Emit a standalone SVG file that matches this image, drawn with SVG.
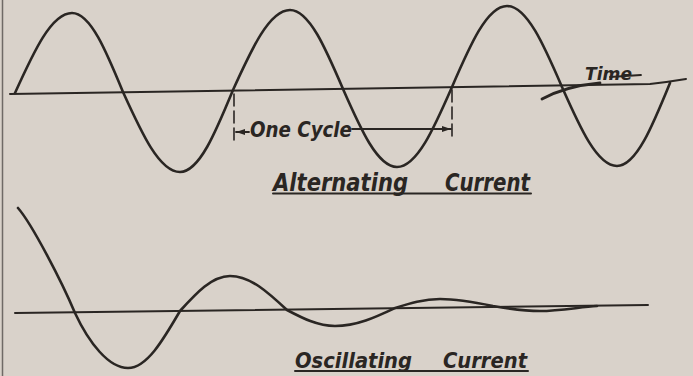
<svg xmlns="http://www.w3.org/2000/svg" width="693" height="376" viewBox="0 0 693 376">
<defs>
<style>
.ink{fill:none;stroke:#2a2623;stroke-linecap:round;stroke-linejoin:round}
.wave{stroke-width:2.6}
.axis{stroke-width:2}
.lbl{font-family:"DejaVu Sans","Liberation Sans",sans-serif;font-style:italic;font-weight:bold;fill:#2a2623}
</style>
<marker id="ah" markerWidth="10" markerHeight="8" refX="9" refY="4" orient="auto" markerUnits="userSpaceOnUse">
<path d="M0,1 L9,4 L0,7 Z" fill="#2a2623"/>
</marker>
</defs>
<rect width="693" height="376" fill="#d9d2ca"/>
<line x1="2.5" y1="0" x2="2.5" y2="376" stroke="#6f6a66" stroke-width="1.5"/>

<g id="alternating">
<path class="ink axis" d="M10,94 L650,84 Q668,82 686,79"/>
<path class="ink wave" d="M15,93 C33.6,52 51.4,13 72,13 C90.5,13 106.4,51.6 123,92 C141.6,133 159.4,172 180,172 C199.2,172 215.7,132 233,90 C251.6,49 269.4,10 290,10 C309.2,10 325.7,48.6 343,89 C360.6,129 377.5,167 397,167 C416.9,167 434.1,128 452,87 C469.9,45.5 487.1,6 507,6 C526.9,6 544.1,45.5 562,87 C579.9,127.4 597.1,166 617,166 C636.2,166 652.7,125.5 670,83"/>
<path class="ink" stroke-width="2.8" d="M542,99 Q566,86 600,83"/>
<text class="lbl" x="585" y="80" font-size="17" textLength="47" lengthAdjust="spacingAndGlyphs">Time</text>
<line class="ink" stroke-width="1.8" x1="610" y1="77" x2="641" y2="75"/>
<text class="lbl" x="273" y="191" font-size="25" textLength="135" lengthAdjust="spacingAndGlyphs">Alternating</text>
<text class="lbl" x="445" y="191" font-size="25" textLength="85" lengthAdjust="spacingAndGlyphs">Current</text>
<line class="ink" stroke-width="2" x1="273" y1="193.5" x2="531" y2="193.5"/>
</g>

<g id="cycle">
<line class="ink" stroke-width="1.6" stroke-dasharray="12 5" x1="234" y1="94" x2="234" y2="145"/>
<line class="ink" stroke-width="1.6" stroke-dasharray="12 5" x1="452" y1="90" x2="452" y2="138"/>
<line class="ink" stroke-width="1.8" x1="249" y1="132" x2="236" y2="132" marker-end="url(#ah)"/>
<line class="ink" stroke-width="1.8" x1="352" y1="129" x2="451" y2="129" marker-end="url(#ah)"/>
<text class="lbl" x="250" y="137" font-size="22" textLength="102" lengthAdjust="spacingAndGlyphs">One Cycle</text>
</g>

<g id="oscillating">
<path class="ink axis" d="M15,313 L648,305"/>
<path class="ink wave" d="M18,208 C32,224 62,282 75,313 C89,343 108.8,368 128,368 C146.8,368 163,340.2 180,311 C196.3,293.1 211.9,276 230,276 C250.6,276 268.4,292.6 287,310 C302.6,318.2 317.6,326 335,326 C356.7,326 375.4,317.2 395,308 C409.7,303.4 423.7,299 440,299 C459.2,299 475.7,302.4 493,306 C508.3,308.6 523,311 540,311 C560,311 580,307 597,306"/>
<text class="lbl" x="295" y="368" font-size="22" textLength="117" lengthAdjust="spacingAndGlyphs">Oscillating</text>
<text class="lbl" x="443" y="368" font-size="22" textLength="84" lengthAdjust="spacingAndGlyphs">Current</text>
<line class="ink" stroke-width="2" x1="295" y1="371" x2="528" y2="371"/>
</g>
</svg>
